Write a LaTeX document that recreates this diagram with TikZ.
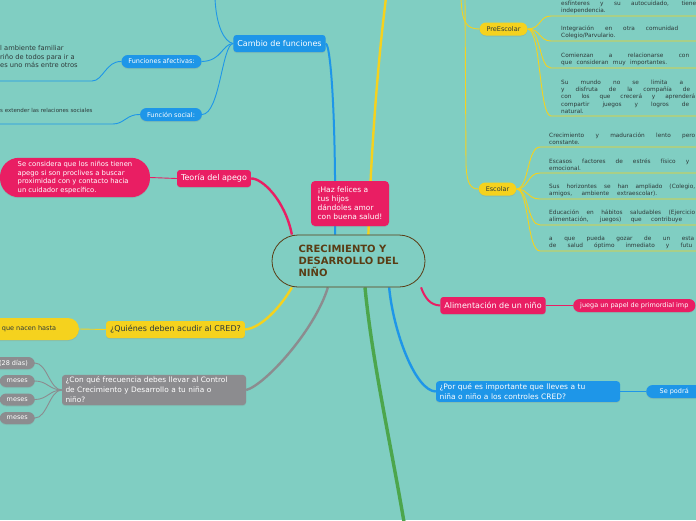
\documentclass[tikz,border=0pt]{standalone}
\usepackage{fontspec}
\setmainfont{DejaVu Sans}
\setsansfont{DejaVu Sans}
\usetikzlibrary{shadows}
\definecolor{credSea}{HTML}{80CEC2}
\definecolor{credBlue}{HTML}{1E96E8}
\definecolor{credPink}{HTML}{E91E63}
\definecolor{credYellow}{HTML}{F5D21E}
\definecolor{credGray}{HTML}{8C8C8F}
\definecolor{credGreen}{HTML}{4CA64C}
\definecolor{credBrown}{HTML}{5A3C14}
\definecolor{credInk}{HTML}{2E3A3A}
\pgfdeclarelayer{sea}
\pgfdeclarelayer{links}
\pgfsetlayers{sea,links,main}
\newcommand{\credjust}[2]{\makebox[#1][s]{#2}}
\tikzset{
  every picture/.style={font=\sffamily},
  cred shadow/.style={drop shadow={shadow xshift=0pt, shadow yshift=-1pt, opacity=0.2}},
  cred core/.style={draw=credBrown, line width=0.8pt, fill=credSea, rounded corners=26pt,
    minimum width=153pt, minimum height=52pt, align=left, text=credBrown,
    font=\bfseries\fontsize{10}{12}\selectfont},
  cred box/.style={rounded corners=3pt, inner xsep=4pt, inner ysep=2pt, minimum height=17pt,
    text=white, font=\fontsize{8}{10}\selectfont, cred shadow},
  cred pill/.style={rounded corners=6.5pt, inner xsep=7pt, inner ysep=1pt, minimum height=13pt,
    text=white, font=\fontsize{6.5}{8}\selectfont, cred shadow},
  cred note/.style={anchor=south west, inner sep=0pt, align=left, text=credInk,
    font=\fontsize{5.8}{7.4}\selectfont},
  cred main/.style={line width=2.4pt},
  cred link/.style={line width=0.9pt}
}

\begin{document}
\begin{tikzpicture}[x=1pt,y=-1pt]
  \useasboundingbox (0,0) rectangle (696,520);
  \begin{pgfonlayer}{sea}
    \fill[credSea] (0,0) rectangle (696,520);
  \end{pgfonlayer}

  % centre
  \node[cred core] (core) at (348.5,261) {CRECIMIENTO Y\\DESARROLLO DEL\\NIÑO};
  \node[cred box, fill=credPink, align=left, font=\fontsize{7.5}{9}\selectfont,
    minimum width=78pt, minimum height=45pt, rounded corners=4pt] (felices) at (350,203.5)
    {¡Haz felices a\\tus hijos\\dándoles amor\\con buena salud!};

  % blue, top left
  \node[cred box, fill=credBlue] (cambio) at (279.5,43.5) {Cambio de funciones};
  \node[cred pill, fill=credBlue] (afect) at (161.5,61.5) {Funciones afectivas:};
  \node[cred pill, fill=credBlue] (social) at (171,114.5) {Función social:};
  \node[anchor=west, inner sep=0pt, align=left, text=credInk, font=\fontsize{6.7}{8.6}\selectfont]
    (afecttxt) at (0,56.5) {l ambiente familiar\\riño de todos para ir a\\es uno más entre otros};
  \node[anchor=west, inner sep=0pt, text=credInk, font=\fontsize{5.5}{7}\selectfont]
    (socialtxt) at (0,110) {s extender las relaciones sociales};
  \coordinate (cambiotop) at (215,-2);
  \coordinate (afectend) at (-2,81);
  \coordinate (socialend) at (-2,124);

  % pink, left
  \node[cred box, fill=credPink] (apego) at (214,178.5) {Teoría del apego};
  \node[fill=credPink, rounded corners=19pt, text=white, align=left, minimum width=150pt,
    minimum height=39pt, font=\fontsize{6.8}{8.7}\selectfont, cred shadow] (apegotxt) at (75,177.5)
    {Se considera que los niños tienen\\apego si son proclives a buscar\\proximidad con y contacto hacia\\un cuidador específico.};

  % yellow, left
  \node[cred box, fill=credYellow, text=credInk] (quienes) at (175.5,329.5) {¿Quiénes deben acudir al CRED?};
  \node[cred pill, fill=credYellow, text=credInk, minimum width=100pt, minimum height=22pt,
    rounded corners=11pt] (nacen) at (29,329) {que nacen hasta};

  % grey, left
  \node[cred box, fill=credGray, align=left, text width=177pt, inner xsep=3.5pt,
    font=\fontsize{7.4}{10}\selectfont] (freq) at (154,390)
    {¿Con qué frecuencia debes llevar al Control\\de Crecimiento y Desarrollo a tu niña o\\niño?};
  \node[cred pill, fill=credGray, anchor=east, minimum height=12pt] (f1) at (35,363) {(28 días)};
  \node[cred pill, fill=credGray, anchor=east, minimum height=12pt] (f2) at (35,381) {meses};
  \node[cred pill, fill=credGray, anchor=east, minimum height=12pt] (f3) at (35,399.5) {meses};
  \node[cred pill, fill=credGray, anchor=east, minimum height=12pt] (f4) at (35,418) {meses};

  % right side
  \node[cred box, fill=credPink] (alim) at (493,305.5) {Alimentación de un niño};
  \node[cred pill, fill=credPink, anchor=west] (juega) at (573,305.5) {juega un papel de primordial imp};
  \node[cred box, fill=credBlue, align=left, text width=177pt, inner xsep=3.5pt,
    font=\fontsize{7.5}{10.5}\selectfont] (porque) at (528,391.5)
    {¿Por qué es importante que lleves a tu\\niña o niño a los controles CRED?};
  \node[cred pill, fill=credBlue, anchor=west, minimum width=56pt] (podra) at (646,391.5) {Se podrá};
  \coordinate (yelltop) at (386,-2);
  \coordinate (greenend) at (404,522);

  % yellow, top right
  \node[cred pill, fill=credYellow, text=credInk] (preesc) at (503.5,29) {PreEscolar};
  \node[cred pill, fill=credYellow, text=credInk] (escolar) at (497.5,189) {Escolar};
  \coordinate (pretop) at (461,-2);
  \coordinate (esctop) at (465,-2);

  \node[cred note] (pre1) at (561,14) {\credjust{135pt}{esfínteres y su autocuidado, tiene}\\independencia.};
  \node[cred note] (pre2) at (561,39) {\credjust{117pt}{Integración en otra comunidad}\\Colegio/Parvulario.};
  \node[cred note] (pre3) at (561,66) {\credjust{128pt}{Comienzan a relacionarse con}\\\credjust{106pt}{que consideran muy importantes.}};
  \node[cred note] (pre4) at (561,114) {\credjust{122pt}{Su mundo no se limita a}\\\credjust{129pt}{y disfruta de la compañía de}\\\credjust{134pt}{con los que crecerá y aprenderá}\\\credjust{128pt}{compartir juegos y logros de}\\natural.};

  \node[cred note] (esc1) at (549,145) {\credjust{146pt}{Crecimiento y maduración lento pero}\\constante.};
  \node[cred note] (esc2) at (549,171) {\credjust{140pt}{Escasos factores de estrés físico y}\\emocional.};
  \node[cred note] (esc3) at (549,197) {\credjust{146pt}{Sus horizontes se han ampliado (Colegio,}\\\credjust{108pt}{amigos, ambiente extraescolar).}};
  \node[cred note] (esc4) at (549,223) {\credjust{146pt}{Educación en hábitos saludables (Ejercicio}\\\credjust{133pt}{alimentación, juegos) que contribuye}};
  \node[cred note] (esc5) at (549,249) {\credjust{145pt}{a que pueda gozar de un esta}\\\credjust{143pt}{de salud óptimo inmediato y futu}};

  \begin{pgfonlayer}{links}
    % main branches
    \draw[cred main, credBlue, line width=2pt] (core.117) .. controls (336,120) and (331,46) .. (cambio.east);
    \draw[cred main, credYellow] (core.53) .. controls (371,150) and (378,60) .. (yelltop);
    \draw[cred main, credPink] (core.155) .. controls (285,200) and (262,178) .. (apego.east);
    \draw[cred main, credYellow] (core.205) .. controls (282,305) and (262,328) .. (quienes.east);
    \draw[cred main, credGray] (core.232) .. controls (315,330) and (265,385) .. (freq.east);
    \draw[cred main, credGreen, line width=3.4pt] (core.302) .. controls (372,360) and (390,440) .. (greenend);
    \draw[cred main, credBlue] (core.327) .. controls (393,330) and (415,391) .. (porque.west);
    \draw[cred main, credPink, line width=2pt] (core.340) .. controls (425,298) and (430,305) .. (alim.west);

    % blue twigs
    \draw[cred link, credBlue] (cambio.west) .. controls (224,42) and (216,25) .. (cambiotop);
    \draw[cred link, credBlue] (cambio.west) .. controls (222,44) and (222,61) .. (afect.east);
    \draw[cred link, credBlue] (cambio.west) .. controls (222,44) and (220,114) .. (social.east);
    \draw[cred link, credBlue] (afect.west) .. controls (106,61) and (103,81) .. (92,81) -- (afectend);
    \draw[cred link, credBlue] (social.west) .. controls (127,114) and (124,124) .. (113,124) -- (socialend);
    \draw[cred link, credBlue] (porque.east) -- (podra.west);

    % pink, yellow, grey twigs
    \draw[cred link, credPink] (apego.west) -- (apegotxt.east);
    \draw[cred link, credPink] (alim.east) -- (juega.west);
    \draw[cred link, credYellow] (quienes.west) -- (nacen.east);
    \foreach \p in {f1,f2,f3,f4}
      \draw[cred link, credGray] (freq.west) .. controls +(-12,0) and +(12,0) .. (\p.east);

    % yellow stages
    \draw[cred link, credYellow] (pretop) .. controls (462,22) and (466,29) .. (preesc.west);
    \draw[cred link, credYellow] (esctop) -- (466,165) .. controls (467,183) and (470,189) .. (escolar.west);
    \foreach \u/\n in {16/1,41/2,68/3,116/4}{
      \coordinate (pre end \n) at (700,\u);
      \draw[cred link, credYellow] (preesc.east) .. controls (541,29) and (539,\u) .. (551,\u) -- (pre end \n);
    }
    \foreach \u/\n in {147/1,173/2,199/3,225/4,251/5}{
      \coordinate (esc end \n) at (700,\u);
      \draw[cred link, credYellow] (escolar.east) .. controls (529,189) and (527,\u) .. (540,\u) -- (esc end \n);
    }
  \end{pgfonlayer}
\end{tikzpicture}
\end{document}
